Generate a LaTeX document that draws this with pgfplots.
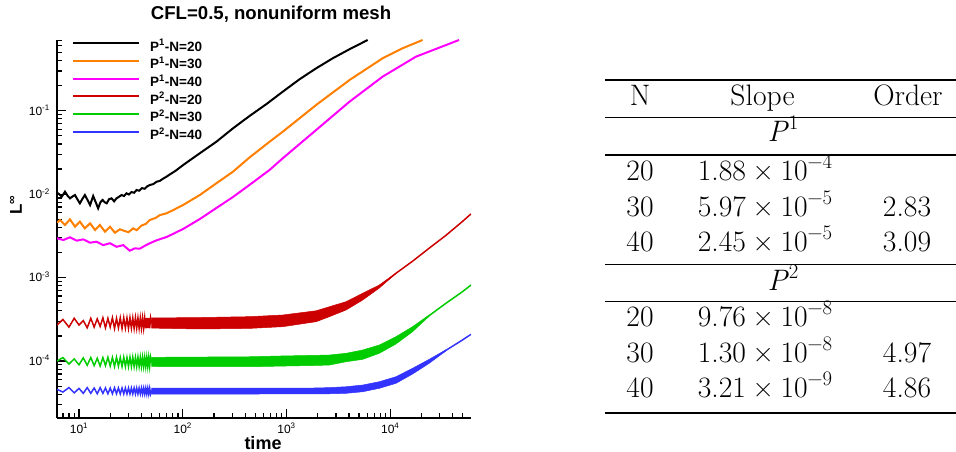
\documentclass[border=0pt]{standalone}
\usepackage{fontspec}
\usepackage{pgfplots}
\pgfplotsset{compat=1.18}
\newfontfamily\arial{Liberation Sans}
\definecolor{corange}{RGB}{255,128,0}
\definecolor{cmag}{RGB}{255,0,255}
\definecolor{cred}{RGB}{204,0,0}
\definecolor{cgreen}{RGB}{0,204,0}
\definecolor{cblue}{RGB}{51,51,255}
\newcommand{\sups}[1]{\raisebox{0.413em}{\fontsize{20.7}{20}\selectfont #1}}
\newcommand{\tnum}[2]{#1\hspace{0.222em}×\hspace{0.222em}10\sups{−#2}}
\begin{document}
\begin{tikzpicture}
\useasboundingbox (0,0) rectangle (956pt,452pt);
\begin{axis}[
  at={(57pt,34pt)}, anchor=south west,
  scale only axis, width=414pt, height=378pt,
  xmode=log, ymode=log,
  xmin=6.14, xmax=6e4, ymin=2.075e-5, ymax=0.704,
  axis x line=bottom, axis y line=left,
  axis line style={-, line width=2pt},
  tick align=inside,
  major tick length=9pt, minor tick length=5pt,
  every tick/.style={black, line width=1.2pt},
  xtick={10,100,1000,10000},
  xticklabels={{10\textsuperscript{1}},{10\textsuperscript{2}},{10\textsuperscript{3}},{10\textsuperscript{4}}},
  minor xtick={7,8,9,20,30,40,50,60,70,80,90,200,300,400,500,600,700,800,900,2000,3000,4000,5000,6000,7000,8000,9000,20000,30000,40000,50000},
  ytick={1e-4,1e-3,1e-2,1e-1},
  yticklabels={{10\textsuperscript{-4}},{10\textsuperscript{-3}},{10\textsuperscript{-2}},{10\textsuperscript{-1}}},
  minor ytick={3e-5,4e-5,5e-5,6e-5,7e-5,8e-5,9e-5,2e-4,3e-4,4e-4,5e-4,6e-4,7e-4,8e-4,9e-4,2e-3,3e-3,4e-3,5e-3,6e-3,7e-3,8e-3,9e-3,2e-2,3e-2,4e-2,5e-2,6e-2,7e-2,8e-2,9e-2,0.2,0.3,0.4,0.5,0.6,0.7},
  xticklabel style={font=\arial\fontsize{12}{12}\selectfont, anchor=base, yshift=-15pt, inner sep=0pt},
  yticklabel style={font=\arial\fontsize{12}{12}\selectfont, anchor=base east, xshift=-7pt, yshift=-4.3pt, inner sep=0pt},
  title={CFL=0.5, nonuniform mesh},
  title style={at={(axis description cs:0.517,1.0688)}, anchor=center, yshift=-6pt, font=\arial\bfseries\fontsize{18.6}{20}\selectfont},
  xlabel={time},
  xlabel style={at={(axis description cs:0.4976,-0.0833)}, anchor=base, yshift=0pt, inner sep=0pt, font=\arial\bfseries\fontsize{18}{18}\selectfont},
  ylabel={L\textsuperscript{∞}},
  ylabel style={at={(axis description cs:-0.099,0.5635)}, anchor=center, font=\arial\bfseries\fontsize{17}{17}\selectfont},
  legend image code/.code={\draw[#1, line width=2.2pt] (0pt,4.6pt) -- (66pt,4.6pt);},
  legend cell align=left,
  legend style={draw=none, fill=none, at={(axis description cs:0.0362,1.0022)}, anchor=north west,
    font=\arial\bfseries\fontsize{13.5}{13.5}\selectfont, inner sep=0pt, outer sep=0pt, row sep=0pt,
    nodes={inner sep=0pt, text height=12pt, text depth=5.65pt},
    /tikz/every odd column/.append style={column sep=10pt}},
]
% ---------- P1, N=20
\addplot[black, line width=2pt] coordinates {
(6.14,0.0104) (6.5,0.0099) (6.82,0.00932) (7.33,0.0107) (7.8,0.0095) (8.19,0.00891) (8.7,0.0094) (9.15,0.00976) (9.7,0.0086) (10.2,0.00776) (10.8,0.0088) (11.4,0.00976) (12.1,0.0085) (12.8,0.00741) (13.7,0.0095) (14.5,0.0080) (15.3,0.00676) (16.1,0.0080) (16.9,0.00851) (17.7,0.0080) (18.5,0.00776) (19.5,0.0087) (20.6,0.00891) (21.8,0.0082) (23,0.00891) (24.3,0.0093) (25.7,0.00976) (27.2,0.0095) (28.7,0.01023) (30.3,0.0099) (32,0.0106) (34,0.0104) (35.9,0.0112) (38,0.0110) (40.5,0.0118) (43,0.0116) (45.5,0.0124) (48.2,0.01287) (52,0.0132) (56,0.0141) (60,0.0144) (65,0.0154) (69.7,0.01618) (75,0.0172) (80,0.0181) (86,0.0192) (93,0.0207) (100.7,0.0223) (146,0.0309) (211,0.0425) (305,0.0615) (440,0.0864) (640,0.120) (920,0.169) (1334,0.238) (1930,0.322) (2790,0.425) (4040,0.545) (6053,0.704)};
\addlegendentry{P\textsuperscript{1}-N=20}
% ---------- P1, N=30
\addplot[corange, line width=2pt] coordinates {
(6.14,0.00455) (6.57,0.0049) (7.33,0.00427) (8.19,0.00499) (9.15,0.00407) (10.2,0.00468) (11.4,0.00389) (12.8,0.00447) (14.3,0.00372) (15.9,0.00427) (17.8,0.00355) (19.9,0.00407) (22.2,0.00345) (24.8,0.00379) (27.7,0.00361) (30,0.0035) (33.3,0.00389) (36,0.0037) (40,0.0042) (44,0.0044) (48.2,0.0049) (55,0.0052) (60,0.0056) (69.7,0.00589) (80,0.0064) (90,0.0069) (100.7,0.00741) (146,0.00976) (211,0.0135) (305,0.0186) (440,0.0275) (687,0.0425) (920,0.056) (1930,0.117) (4040,0.233) (8440,0.425) (13130,0.56) (20500,0.704)};
\addlegendentry{P\textsuperscript{1}-N=30}
% ---------- P1, N=40
\addplot[cmag, line width=2pt] coordinates {
(6.14,0.00296) (7.06,0.00282) (8.19,0.00304) (9.5,0.00277) (10.99,0.00287) (12.8,0.00262) (14.8,0.00269) (17.1,0.00245) (19.9,0.00258) (23,0.00234) (26.7,0.00245) (30.9,0.0021) (34.5,0.00224) (38.6,0.00222) (43,0.0024) (48.2,0.00258) (56,0.0028) (69.7,0.00306) (100.7,0.00382) (146,0.00503) (211,0.00682) (305,0.00925) (440,0.0129) (687,0.0195) (920,0.0269) (1930,0.0587) (4040,0.128) (8440,0.256) (17660,0.444) (46000,0.704)};
\addlegendentry{P\textsuperscript{1}-N=40}
% ---------- P2, N=20
\addplot[cred, line width=1.5pt] coordinates {
(6.14,2.70e-4) (7,3.15e-4) (8,2.55e-4) (9,3.25e-4) (10,2.70e-4) (11,3.05e-4) (12,2.50e-4) (13,3.25e-4) (14,2.55e-4) (15,3.20e-4) (16,2.60e-4) (17,3.30e-4) (18,2.50e-4) (19,3.25e-4) (20,2.55e-4) (21,3.30e-4) (22,2.45e-4) (23,3.25e-4) (24,2.50e-4) (25,3.30e-4) (26,2.45e-4) (27,3.30e-4) (28,2.48e-4) (29,3.28e-4) (30,2.46e-4) (31,3.30e-4) (32,2.48e-4) (33,3.28e-4) (34,2.46e-4) (35,3.30e-4) (36,2.48e-4) (37,3.28e-4) (38,2.47e-4) (39,3.29e-4) (40,2.48e-4) (41,3.28e-4) (42,2.47e-4) (43,3.29e-4) (44,2.47e-4) (45,3.28e-4) (46,2.48e-4) (47,3.29e-4) (48,2.47e-4) (49,3.28e-4) (50,2.86e-4) (146,2.87e-4) (440,2.9e-4) (920,3.05e-4) (1930,3.45e-4) (2591,3.9e-4) (3750,4.59e-4) (5417,5.9e-4) (7834,7.8e-4) (11340,1.125e-3) (16390,1.57e-3) (23710,2.25e-3) (34320,3.2e-3) (49580,4.7e-3) (60000,5.8e-3)};
\addlegendentry{P\textsuperscript{2}-N=20}
% ---------- P2, N=30
\addplot[cgreen, line width=1.5pt] coordinates {
(6.14,1.0e-4) (7,1.10e-4) (8,9.2e-5) (9,1.06e-4) (10,9.0e-5) (11,1.09e-4) (12,8.9e-5) (13,1.10e-4) (14,8.8e-5) (15,1.08e-4) (16,8.7e-5) (17,1.10e-4) (18,8.8e-5) (19,1.11e-4) (20,8.7e-5) (21,1.10e-4) (22,8.6e-5) (23,1.11e-4) (24,8.7e-5) (25,1.10e-4) (26,8.6e-5) (27,1.11e-4) (28,8.6e-5) (29,1.10e-4) (30,8.6e-5) (31,1.11e-4) (32,8.6e-5) (33,1.11e-4) (34,8.6e-5) (35,1.10e-4) (36,8.6e-5) (37,1.11e-4) (38,8.6e-5) (39,1.11e-4) (40,8.6e-5) (41,1.11e-4) (42,8.6e-5) (43,1.11e-4) (44,8.6e-5) (45,1.11e-4) (46,8.6e-5) (47,1.11e-4) (48,8.6e-5) (49,1.11e-4) (50,9.8e-5) (440,9.8e-5) (920,1.0e-4) (1930,1.02e-4) (2591,1.03e-4) (3750,1.10e-4) (5417,1.19e-4) (7834,1.39e-4) (11340,1.77e-4) (16390,2.40e-4) (23710,3.5e-4) (34320,4.91e-4) (49580,6.77e-4) (60000,8.14e-4)};
\addlegendentry{P\textsuperscript{2}-N=30}
% ---------- P2, N=40
\addplot[cblue, line width=1.5pt] coordinates {
(6.14,4.58e-5) (7,4.25e-5) (8,4.8e-5) (9,4.15e-5) (10,4.7e-5) (11,4.1e-5) (12,4.8e-5) (13,4.1e-5) (14,4.75e-5) (15,4.05e-5) (16,4.8e-5) (17,4.1e-5) (18,4.75e-5) (19,4.05e-5) (20,4.75e-5) (21,4.05e-5) (22,4.78e-5) (23,4.05e-5) (24,4.75e-5) (25,4.03e-5) (26,4.75e-5) (27,4.03e-5) (28,4.75e-5) (29,4.03e-5) (30,4.75e-5) (31,4.03e-5) (32,4.75e-5) (33,4.03e-5) (34,4.75e-5) (35,4.03e-5) (36,4.74e-5) (37,4.03e-5) (38,4.74e-5) (39,4.03e-5) (40,4.74e-5) (41,4.03e-5) (42,4.73e-5) (43,4.02e-5) (44,4.73e-5) (45,4.02e-5) (46,4.73e-5) (47,4.02e-5) (48,4.72e-5) (49,4.02e-5) (50,4.37e-5) (440,4.37e-5) (1930,4.38e-5) (2591,4.41e-5) (3750,4.49e-5) (5417,4.7e-5) (7834,5.15e-5) (11340,5.92e-5) (16390,7.55e-5) (23710,9.91e-5) (34320,1.34e-4) (49580,1.785e-4) (60000,2.089e-4)};
\addlegendentry{P\textsuperscript{2}-N=40}
% ---------- oscillation bands (envelopes)
\addplot[cred, fill=cred, line width=0.5pt, forget plot] coordinates {
(50,3.28e-4) (146,3.32e-4) (440,3.40e-4) (920,3.56e-4) (1930,4.0e-4) (2591,4.47e-4) (3750,5.14e-4) (5417,6.48e-4) (7834,8.14e-4) (11340,1.13e-3)
(11340,1.12e-3) (7834,7.49e-4) (5417,5.38e-4) (3750,4.09e-4) (2591,3.40e-4) (1930,2.96e-4) (920,2.58e-4) (440,2.46e-4) (146,2.42e-4) (50,2.48e-4)} -- cycle;
\addplot[cgreen, fill=cgreen, line width=0.5pt, forget plot] coordinates {
(50,1.107e-4) (440,1.125e-4) (920,1.15e-4) (1930,1.17e-4) (2591,1.18e-4) (3750,1.237e-4) (5417,1.354e-4) (7834,1.555e-4) (11340,1.955e-4) (16390,2.576e-4) (23710,3.56e-4)
(23710,3.45e-4) (16390,2.244e-4) (11340,1.598e-4) (7834,1.237e-4) (5417,1.047e-4) (3750,9.81e-5) (2591,8.95e-5) (1930,8.85e-5) (920,8.7e-5) (440,8.54e-5) (50,8.6e-5)} -- cycle;
\addplot[cblue, fill=cblue, line width=0.5pt, forget plot] coordinates {
(50,4.72e-5) (440,4.72e-5) (1930,4.75e-5) (2591,4.8e-5) (3750,4.918e-5) (5417,5.154e-5) (7834,5.646e-5) (11340,6.48e-5) (16390,8.17e-5) (23710,1.047e-4) (34320,1.36e-4)
(34320,1.32e-4) (23710,9.38e-5) (16390,6.98e-5) (11340,5.40e-5) (7834,4.707e-5) (5417,4.283e-5) (3750,4.10e-5) (2591,4.05e-5) (1930,4.05e-5) (440,4.02e-5) (50,4.02e-5)} -- cycle;
\end{axis}
% ---------- table
\begin{scope}[every node/.style={inner sep=0pt, anchor=base, font=\fontsize{29.6}{35.5}\selectfont}]
\draw[line width=1.7pt] (605pt,372pt) -- (960pt,372pt);
\node at (640pt,346.3pt) {N};
\node at (762.5pt,346.3pt) {Slope};
\node at (908pt,346.3pt) {Order};
\draw[line width=1.2pt] (605pt,334.3pt) -- (960pt,334.3pt);
\node at (783pt,310.3pt) {\textit{P}\sups{1}};
\draw[line width=1.2pt] (605pt,297pt) -- (960pt,297pt);
\node at (640pt,271pt) {20};   \node at (765pt,271pt) {\tnum{1.88}{4}};
\node at (640pt,235.5pt) {30}; \node at (765pt,235.5pt) {\tnum{5.97}{5}}; \node at (907pt,235.5pt) {2.83};
\node at (640pt,200pt) {40};   \node at (765pt,200pt) {\tnum{2.45}{5}}; \node at (907pt,200pt) {3.09};
\draw[line width=1.2pt] (605pt,187.7pt) -- (960pt,187.7pt);
\node at (783pt,161.3pt) {\textit{P}\sups{2}};
\draw[line width=1.2pt] (605pt,150.3pt) -- (960pt,150.3pt);
\node at (640pt,125pt) {20};   \node at (765pt,125pt) {\tnum{9.76}{8}};
\node at (640pt,89.5pt) {30};  \node at (765pt,89.5pt) {\tnum{1.30}{8}}; \node at (907pt,89.5pt) {4.97};
\node at (640pt,54pt) {40};    \node at (765pt,54pt) {\tnum{3.21}{9}}; \node at (907pt,54pt) {4.86};
\draw[line width=2.2pt] (605pt,39.3pt) -- (960pt,39.3pt);
\end{scope}
\end{tikzpicture}
\end{document}
